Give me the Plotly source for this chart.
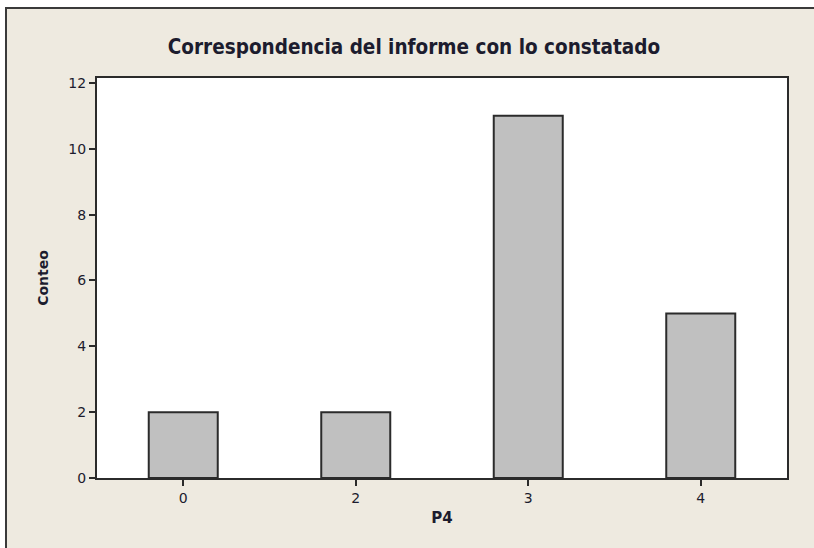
import plotly.graph_objects as go

categories = ["0", "2", "3", "4"]
counts = [2, 2, 11, 5]
y_ticks = [0, 2, 4, 6, 8, 10, 12]

W, H = 814, 548
L, R, T, B = 97, 787, 78, 478
pw, ph = R - L, B - T
TXT = "#1c1c2e"


def px(xp):
    return (xp - L) / pw


def py(yp):
    return (B - yp) / ph


fig = go.Figure(go.Bar(
    x=categories, y=counts, width=0.4,
    marker=dict(color="#C0C0C0", line=dict(color="#2b2b2b", width=2)),
))

fig.update_layout(
    width=W, height=H,
    margin=dict(l=L, r=W - R, t=T, b=H - B),
    paper_bgcolor="#EEEAE0", plot_bgcolor="#FFFFFF",
    showlegend=False,
    font=dict(family="DejaVu Sans", color=TXT, size=14),
    title=dict(text="<b>Correspondencia del informe con lo constatado</b>",
               x=px(414), xref="paper", xanchor="center",
               y=1 - 47 / H, yanchor="middle",
               font=dict(size=20.5, family="DejaVu Sans Condensed, DejaVu Sans", color=TXT)),
    xaxis=dict(type="category", range=[-0.5, 3.5], showline=True, mirror=True,
               linecolor="#2b2b2b", linewidth=2, ticks="outside", ticklen=6,
               tickcolor="#2b2b2b", tickwidth=2, showgrid=False,
               tickfont=dict(size=14),
               title=dict(text="<b>P4</b>", font=dict(size=15), standoff=8)),
    yaxis=dict(range=[0, 12.15], tickvals=y_ticks, showline=True, mirror=True,
               linecolor="#2b2b2b", linewidth=2, ticks="outside", ticklen=6,
               tickcolor="#2b2b2b", tickwidth=2, showgrid=False, zeroline=False,
               tickfont=dict(size=14),
               title=dict(text="<b>Conteo</b>", font=dict(size=14), standoff=16)),
    shapes=[
        dict(type="rect", xref="paper", yref="paper", x0=px(-5), x1=px(5), y0=py(560), y1=py(-5),
             fillcolor="#FFFFFF", line=dict(width=0), layer="below"),
        dict(type="rect", xref="paper", yref="paper", x0=px(-5), x1=px(820), y0=py(7), y1=py(-5),
             fillcolor="#FFFFFF", line=dict(width=0), layer="below"),
        dict(type="path", xref="paper", yref="paper",
             path=f"M {px(6)} {py(560)} L {px(6)} {py(8)} L {px(830)} {py(8)}",
             line=dict(color="#3a3a3a", width=2)),
    ],
)

fig.write_html("out.html", config={"displayModeBar": False},
               post_script="document.body.style.margin='0';document.body.style.overflow='hidden';")
